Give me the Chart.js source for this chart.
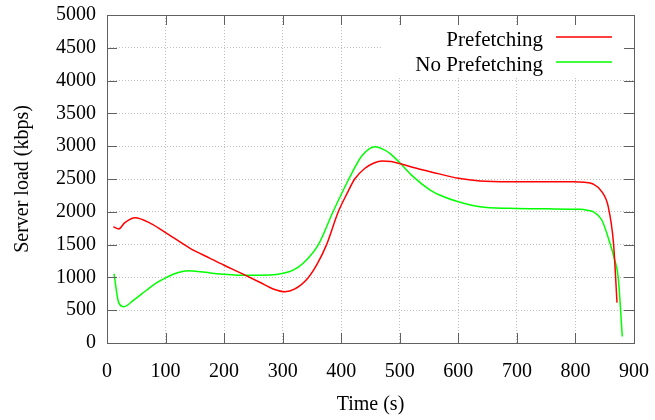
<!DOCTYPE html>
<html lang="en">
<head>
    <meta charset="UTF-8">
    <title>Server load</title>
    <script src="https://cdn.jsdelivr.net/npm/chart.js@4.4.0/dist/chart.umd.min.js"></script>
    <style>
        body { margin: 0; background: #fff; }
    </style>
</head>
<body>
    <canvas id="myChart" width="655" height="420"></canvas>

    <script>
        // dados
        const timePrefetch = [11, 20, 30, 48, 75, 102, 142, 176, 200, 227, 260, 285, 304, 320, 344, 360, 375, 395, 410, 423, 440, 455, 470, 485, 500, 525, 552, 600, 637, 688, 796, 815, 830, 845, 856, 865, 871];
        const loadPrefetch = [1773, 1738, 1830, 1910, 1820, 1672, 1443, 1291, 1185, 1072, 930, 820, 782, 820, 1000, 1220, 1500, 2000, 2280, 2500, 2660, 2740, 2775, 2765, 2735, 2670, 2612, 2511, 2470, 2459, 2459, 2450, 2424, 2307, 2078, 1520, 615];

        const timeNoPrefetch = [12, 20, 29, 45, 68, 85, 102, 120, 139, 160, 176, 200, 227, 278, 301, 318, 335, 361, 386, 413, 435, 449, 458, 470, 483, 500, 523, 552, 575, 600, 637, 688, 750, 808, 820, 830, 845, 859, 866, 873, 880];
        const loadNoPrefetch = [1052, 615, 553, 650, 808, 920, 1001, 1070, 1103, 1087, 1068, 1048, 1033, 1037, 1062, 1110, 1215, 1500, 2000, 2500, 2850, 2967, 2992, 2960, 2892, 2748, 2536, 2332, 2230, 2154, 2078, 2053, 2045, 2038, 2025, 2002, 1875, 1520, 1300, 1000, 100];

        const xTicks = [0, 100, 200, 300, 400, 500, 600, 700, 800, 900];
        const yTicks = [0, 500, 1000, 1500, 2000, 2500, 3000, 3500, 4000, 4500, 5000];

        Chart.defaults.font.family = 'Liberation Serif';
        Chart.defaults.font.size = 20;
        Chart.defaults.color = '#000';
        const corBorda = '#606060';

        function pontos(xs, ys) {
            return xs.map((x, i) => ({ x: x, y: ys[i] }));
        }

        // moldura, ticks para dentro e legenda no estilo gnuplot
        const molduraPlugin = {
            id: 'moldura',
            afterDatasetsDraw(chart) {
                const ctx = chart.ctx;
                const a = chart.chartArea;
                const sx = chart.scales.x;
                const sy = chart.scales.y;
                ctx.save();

                // legenda com fundo branco
                ctx.fillStyle = '#fff';
                ctx.fillRect(383, 25, a.right - 383 - 1, 52);
                ctx.font = '21px "Liberation Serif"';
                ctx.fillStyle = '#000';
                ctx.textAlign = 'right';
                ctx.textBaseline = 'alphabetic';
                chart.data.datasets.forEach((ds, i) => {
                    const yy = 37 + i * 25;
                    ctx.fillText(ds.label, 543, yy + 9);
                    ctx.strokeStyle = ds.borderColor;
                    ctx.lineWidth = 1.5;
                    ctx.beginPath();
                    ctx.moveTo(556, yy);
                    ctx.lineTo(612, yy);
                    ctx.stroke();
                });

                // ticks
                ctx.strokeStyle = corBorda;
                ctx.lineWidth = 1;
                ctx.beginPath();
                xTicks.forEach(v => {
                    const px = Math.round(sx.getPixelForValue(v)) + 0.5;
                    ctx.moveTo(px, a.bottom); ctx.lineTo(px, a.bottom - 10);
                    ctx.moveTo(px, a.top); ctx.lineTo(px, a.top + 10);
                });
                yTicks.forEach(v => {
                    const py = Math.round(sy.getPixelForValue(v)) + 0.5;
                    ctx.moveTo(a.left, py); ctx.lineTo(a.left + 10, py);
                    ctx.moveTo(a.right, py); ctx.lineTo(a.right - 10, py);
                });
                ctx.stroke();

                // borda
                ctx.strokeRect(Math.round(a.left) + 0.5, Math.round(a.top) + 0.5,
                    Math.round(a.right - a.left), Math.round(a.bottom - a.top));
                ctx.restore();
            }
        };

        const dados = {
            datasets: [{
                label: 'Prefetching',
                data: pontos(timePrefetch, loadPrefetch),
                borderColor: '#ff0000',
                borderWidth: 1.5,
                pointRadius: 0,
                fill: false,
                cubicInterpolationMode: 'monotone'
            }, {
                label: 'No Prefetching',
                data: pontos(timeNoPrefetch, loadNoPrefetch),
                borderColor: '#00ff00',
                borderWidth: 1.5,
                pointRadius: 0,
                fill: false,
                cubicInterpolationMode: 'monotone'
            }]
        };

        function corGrade(ctx, lista) {
            const v = ctx.tick && ctx.tick.value;
            if (v === lista[0] || v === lista[lista.length - 1]) return 'rgba(0,0,0,0)';
            return '#c0c0c0';
        }

        const config = {
            type: 'line',
            data: dados,
            options: {
                responsive: false,
                animation: false,
                layout: { padding: { top: 15, right: 21, left: 0, bottom: 0 } },
                plugins: {
                    legend: { display: false },
                    tooltip: { enabled: false }
                },
                scales: {
                    x: {
                        type: 'linear',
                        min: 0,
                        max: 900,
                        afterFit(scale) {
                            scale.height = 77;
                            scale.paddingLeft = 0;
                            scale.paddingRight = 0;
                        },
                        afterBuildTicks(scale) { scale.ticks = xTicks.map(v => ({ value: v })); },
                        ticks: { padding: 17, maxRotation: 0, callback: v => String(v) },
                        grid: { drawTicks: false, color: ctx => corGrade(ctx, xTicks), lineWidth: 1 },
                        border: { display: false, dash: [1, 2] },
                        title: { display: true, text: 'Time (s)', padding: { top: 0, bottom: 3 } }
                    },
                    y: {
                        min: 0,
                        max: 5000,
                        afterFit(scale) {
                            scale.width = 107;
                            scale.paddingTop = 0;
                            scale.paddingBottom = 0;
                        },
                        afterBuildTicks(scale) { scale.ticks = yTicks.map(v => ({ value: v })); },
                        ticks: { padding: 11, callback: v => String(v) },
                        grid: { drawTicks: false, color: ctx => corGrade(ctx, yTicks), lineWidth: 1 },
                        border: { display: false, dash: [1, 2] },
                        title: { display: true, text: 'Server load (kbps)', padding: { top: 11, bottom: 0 } }
                    }
                }
            },
            plugins: [molduraPlugin]
        };

        let myChart = new Chart(document.getElementById('myChart'), config);
    </script>
</body>
</html>
